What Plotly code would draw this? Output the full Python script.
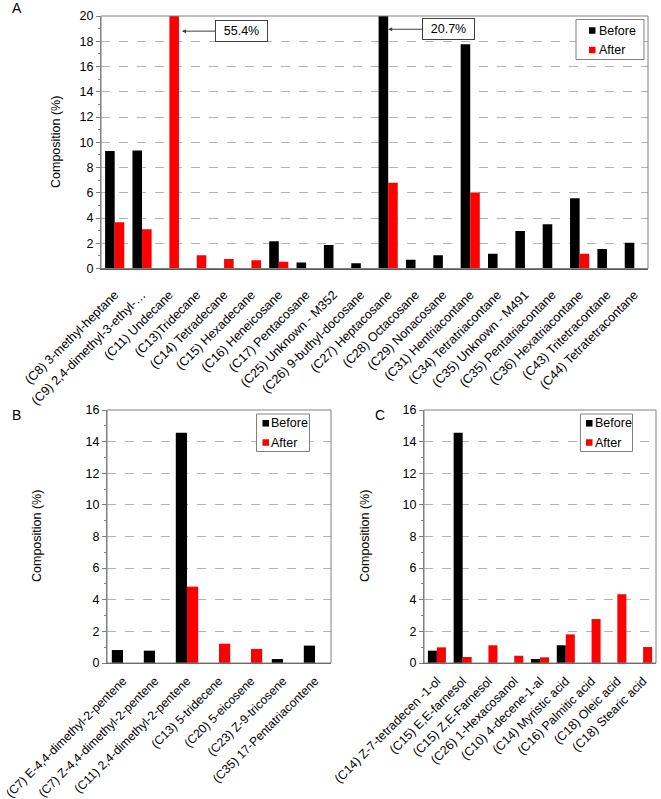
import plotly.graph_objects as go

# ---------------- data ----------------
CATS_A = ["(C8) 3-methyl-heptane", "(C9) 2,4-dimethyl-3-ethyl-…", "(C11) Undecane",
          "(C13)Tridecane", "(C14) Tetradecane", "(C15) Hexadecane", "(C16) Heneicosane",
          "(C17) Pentacosane", "(C25) Unknown - M352", "(C26) 9-buthyl-docosane",
          "(C27) Heptacosane", "(C28) Octacosane", "(C29) Nonacosane", "(C31) Hentriacontane",
          "(C34) Tetratriacontane", "(C35) Unknown - M491", "(C35) Pentatriacontane",
          "(C36) Hexatriacontane", "(C43) Tritetracontane", "(C44) Tetratetracontane"]
BEFORE_A = [9.30, 9.35, 0, 0, 0, 0, 2.16, 0.47, 1.87, 0.42, 20.7, 0.69, 1.05, 17.76,
            1.16, 2.98, 3.50, 5.56, 1.55, 2.03]
AFTER_A = [3.66, 3.11, 55.4, 1.05, 0.76, 0.66, 0.53, 0, 0, 0, 6.80, 0, 0, 6.01,
           0, 0, 0, 1.16, 0, 0]

CATS_B = ["(C7) E-4,4-dimethyl-2-pentene", "(C7) Z-4,4-dimethyl-2-pentene",
          "(C11) 2,4-dimethyl-2-pentene", "(C13) 5-tridecene", "(C20) 5-eicosene",
          "(C23) Z-9-tricosene", "(C35) 17-Pentatriacontene"]
BEFORE_B = [0.82, 0.78, 14.56, 0, 0, 0.25, 1.10]
AFTER_B = [0, 0, 4.83, 1.22, 0.89, 0, 0]

CATS_C = ["(C14) Z-7-tetradecen -1-ol", "(C15) E,E-farnesol", "(C15) Z,E-Farnesol",
          "(C26) 1-Hexacosanol", "(C10) 4-decene-1-al", "(C14) Myristic acid",
          "(C16) Palmitic acid", "(C18) Oleic acid", "(C18) Stearic acid"]
BEFORE_C = [0.78, 14.56, 0, 0, 0.25, 1.12, 0, 0, 0]
AFTER_C = [0.99, 0.38, 1.12, 0.46, 0.36, 1.81, 2.78, 4.35, 1.01]

SERIES = ["Before", "After"]
COLORS = ["#000000", "#FF0000"]

# ---------------- layout helpers ----------------
W, H = 661, 799
FONT = "Liberation Sans, Arial, sans-serif"


def xd(a, b):
    return [a / W, b / W]


def yd(top, bottom):
    return [1 - bottom / H, 1 - top / H]


fig = go.Figure()

panels = [
    # suffix, cats, before, after, ymax, xdom, ydom, tickangle, xfont, standoff
    ("", CATS_A, BEFORE_A, AFTER_A, 20, xd(101, 648), yd(16, 268.5), -45, 12.6, 13),
    ("2", CATS_B, BEFORE_B, AFTER_B, 16, xd(107, 331), yd(410, 663), -45, 12.2, 5),
    ("3", CATS_C, BEFORE_C, AFTER_C, 16, xd(424, 656), yd(410, 663), -45, 12.4, 5),
]

for s, cats, bef, aft, ymax, xdom, ydom, tang, xfs, sto in panels:
    for name, vals, col in zip(SERIES, [bef, aft], COLORS):
        fig.add_trace(go.Bar(x=cats, y=vals, name=name, marker=dict(color=col, line=dict(width=0)),
                             xaxis="x" + s, yaxis="y" + s, showlegend=False))
    fig.layout["xaxis" + s] = dict(
        domain=xdom, anchor="y" + s, type="category", tickangle=tang,
        showline=True, linecolor="#595959", linewidth=1, ticks="", showgrid=False,
        ticklabelstandoff=sto,
        tickfont=dict(family=FONT, size=xfs, color="#000"), fixedrange=True)
    fig.layout["yaxis" + s] = dict(
        domain=ydom, anchor="x" + s, range=[0, ymax], dtick=2, tick0=0,
        showline=True, linecolor="#808080", linewidth=1,
        ticks="outside", ticklen=4, tickcolor="#808080",
        minor=dict(dtick=1, ticks="outside", ticklen=2, tickcolor="#808080", showgrid=False),
        showgrid=True, gridcolor="#b3b3b3", griddash="dash", gridwidth=1,
        zeroline=False, tickfont=dict(family=FONT, size=12.5, color="#000"), fixedrange=True)
    # gray frame around plot area
    fig.add_shape(type="rect", xref="x" + s + " domain", yref="y" + s + " domain",
                  x0=0, x1=1, y0=0, y1=1, line=dict(color="#808080", width=1), layer="above")

ann = []

# ---------------- legends (box + swatches + labels) ----------------
legends = [
    # box (x0, y0, x1, y1), swatch left x, text left x, row centres y
    ((576, 19.5, 644, 59.5), 589, 597.5, (30.5, 50)),
    ((256.5, 414, 309.5, 451.5), 262.5, 270, (423.3, 442.5)),
    ((580.5, 414, 632.5, 451.5), 586, 594, (423.3, 442.5)),
]
SQ = 6.5
for (bx0, by0, bx1, by1), sqx, tx, rows in legends:
    fig.add_shape(type="rect", xref="paper", yref="paper",
                  x0=bx0 / W, x1=bx1 / W, y0=1 - by1 / H, y1=1 - by0 / H,
                  line=dict(color="#808080", width=1), fillcolor="white", layer="above")
    for name, col, ry in zip(SERIES, COLORS, rows):
        fig.add_shape(type="rect", xref="paper", yref="paper",
                      x0=sqx / W, x1=(sqx + SQ) / W, y0=1 - (ry + SQ / 2) / H, y1=1 - (ry - SQ / 2) / H,
                      line=dict(width=0), fillcolor=col, layer="above")
        ann.append(dict(x=tx / W, y=1 - ry / H, xref="paper", yref="paper", text=name,
                        showarrow=False, xanchor="left", yanchor="middle", borderpad=0,
                        font=dict(family=FONT, size=12.5, color="#000")))

# ---------------- off-scale value call-outs ----------------
box_style = dict(showarrow=True, ax=60, ay=0, arrowhead=2, arrowsize=0.8, arrowwidth=1,
                 arrowcolor="#404040", bordercolor="#404040", borderwidth=1, borderpad=3,
                 bgcolor="white", width=45, font=dict(family=FONT, size=12.5, color="#000"))
i11 = CATS_A.index("(C11) Undecane")
ann.append(dict(x=i11 + 0.46, y=18.8, xref="x", yref="y", text=f"{AFTER_A[i11]}%", **box_style))
i27 = CATS_A.index("(C27) Heptacosane")
ann.append(dict(x=i27, y=18.95, xref="x", yref="y", text=f"{BEFORE_A[i27]}%", **box_style))

# panel letters
for letter, px, py in [("A", 16.5, 8.5), ("B", 16.5, 414.5), ("C", 380, 414.5)]:
    ann.append(dict(x=px / W, y=1 - py / H, xref="paper", yref="paper", text=letter,
                    showarrow=False, xanchor="center", yanchor="middle",
                    font=dict(family=FONT, size=14, color="#000")))
# y-axis titles
for px, py in [(56, 142), (37, 536), (365, 536)]:
    ann.append(dict(x=px / W, y=1 - py / H, xref="paper", yref="paper", text="Composition (%)",
                    showarrow=False, textangle=-90, xanchor="center", yanchor="middle",
                    font=dict(family=FONT, size=12.5, color="#000")))
fig.update_layout(annotations=ann)

fig.update_layout(
    width=W, height=H, margin=dict(l=0, r=0, t=0, b=0, autoexpand=False),
    paper_bgcolor="white", plot_bgcolor="white", showlegend=False,
    barmode="group", bargap=0.3, bargroupgap=0,
    font=dict(family=FONT, color="#000"),
)

fig.write_html("out.html", config={"displayModeBar": False})
